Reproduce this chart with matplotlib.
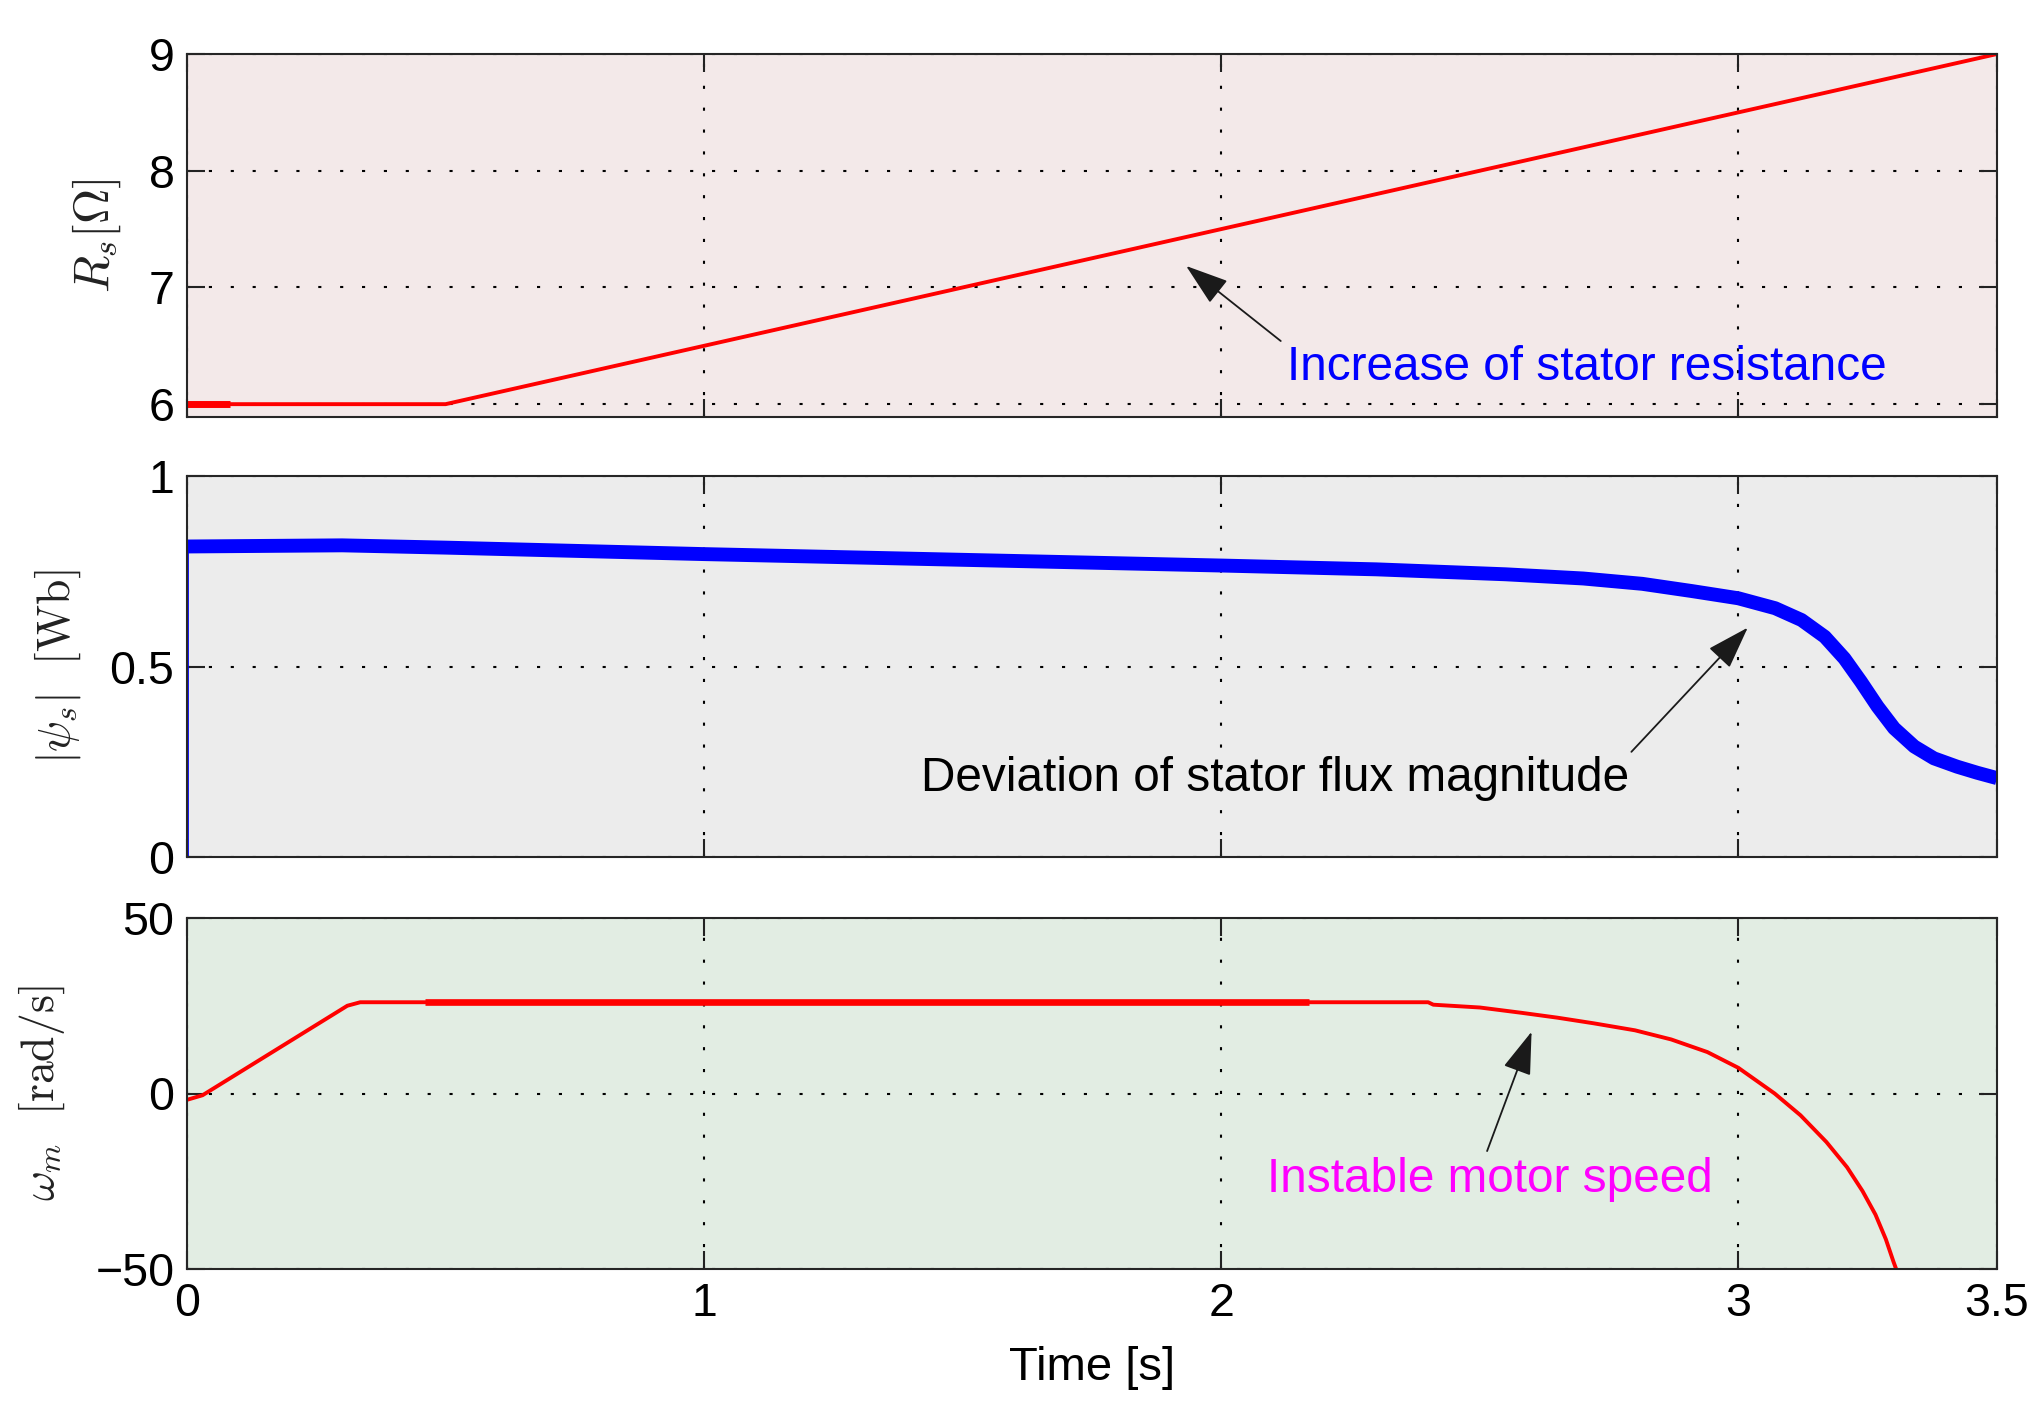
import matplotlib
matplotlib.use("Agg")
import matplotlib.pyplot as plt
from matplotlib.patches import ArrowStyle

plt.rcParams['font.family'] = ['Liberation Sans', 'DejaVu Sans']
plt.rcParams['mathtext.fontset'] = 'cm'

# ---------------- data ----------------
time_ticks = [0, 1, 2, 3, 3.5]
time_tick_labels = ["0", "1", "2", "3", "3.5"]

# stator resistance R_s [Ohm]
rs_t = [0.0, 0.5, 3.5]
rs_v = [6.0, 6.0, 9.0]
rs_thick_t = [0.0, 0.083]
rs_thick_v = [6.0, 6.0]
rs_ticks = [6, 7, 8, 9]

# stator flux magnitude |psi_s| [Wb]
flux_t = [0.0, 0.0, 0.3, 0.5, 1.0, 1.5, 2.0, 2.3, 2.55, 2.7, 2.814, 2.91,
          3.0, 3.071, 3.122, 3.167, 3.205, 3.237, 3.269, 3.301, 3.34, 3.378,
          3.423, 3.462, 3.5]
flux_v = [0.0, 0.815, 0.818, 0.812, 0.795, 0.78, 0.765, 0.755, 0.742, 0.731,
          0.717, 0.698, 0.679, 0.653, 0.622, 0.578, 0.521, 0.46, 0.395,
          0.338, 0.29, 0.259, 0.237, 0.221, 0.207]
flux_ticks = [0, 0.5, 1]
flux_tick_labels = ["0", "0.5", "1"]

# motor speed omega_m [rad/s]
spd_t = [0.0, 0.03, 0.31, 0.335, 2.40, 2.41, 2.50, 2.58, 2.65, 2.72, 2.80,
         2.87, 2.94, 3.00, 3.07, 3.12, 3.17, 3.21, 3.24, 3.265, 3.285,
         3.30, 3.31]
spd_v = [-1.8, -0.5, 25.0, 26.0, 26.0, 25.3, 24.5, 23.0, 21.6, 20.0, 18.0,
         15.4, 11.8, 7.3, 0.0, -6.2, -13.8, -21.0, -27.8, -34.5, -41.5,
         -48.0, -52.0]
spd_thick_t = [0.46, 2.17]
spd_thick_v = [26.0, 26.0]
spd_ticks = [-50, 0, 50]

# annotations (data coordinates of text and arrows)
ann_rs_text = "Increase of stator resistance"
ann_rs_text_xy = (2.127, 6.318)
ann_rs_tail = (2.115, 6.541)
ann_rs_tip = (1.932, 7.184)

ann_flux_text = "Deviation of stator flux magnitude"
ann_flux_text_xy = (1.419, 0.207)
ann_flux_tail = (2.793, 0.276)
ann_flux_tip = (3.018, 0.602)

ann_spd_text = "Instable motor speed"
ann_spd_text_xy = (2.088, -24.6)
ann_spd_tail = (2.514, -16.4)
ann_spd_tip = (2.600, 17.6)

# ---------------- figure ----------------
W, H = 2033, 1402
fig = plt.figure(figsize=(W / 100, H / 100), dpi=100)

left = 187 / W
width = 1810 / W
ax_rs = fig.add_axes([left, 1 - 417 / H, width, 363 / H])
ax_fl = fig.add_axes([left, 1 - 857 / H, width, 381 / H])
ax_sp = fig.add_axes([left, 1 - 1269 / H, width, 351 / H])

bg = {ax_rs: "#f3e9e9", ax_fl: "#ececec", ax_sp: "#e2ede3"}
tick_fs = 33.5
label_fs = 33
ann_fs = 34.4

for ax in (ax_rs, ax_fl, ax_sp):
    ax.set_facecolor(bg[ax])
    ax.set_xlim(0, 3.5)
    ax.set_xticks(time_ticks)
    ax.grid(True, color="black", linestyle=(0, (1.5, 9.0)), linewidth=1.5)
    ax.set_axisbelow(True)
    ax.tick_params(direction="in", length=13, width=1.5, top=True, right=True,
                   labelsize=tick_fs, pad=9, colors="#222222", labelcolor="black")
    for s in ax.spines.values():
        s.set_linewidth(1.5)
        s.set_color("#262626")

ax_rs.tick_params(labelbottom=False)
ax_fl.tick_params(labelbottom=False)
ax_sp.set_xticklabels(time_tick_labels)

# --- R_s ---
ax_rs.plot(rs_t, rs_v, color="red", lw=2.8, solid_capstyle="butt")
ax_rs.plot(rs_thick_t, rs_thick_v, color="red", lw=5, solid_capstyle="butt")
ax_rs.set_ylim(5.89, 9)
ax_rs.set_yticks(rs_ticks)
ax_rs.set_ylabel(r"$R_s[\Omega]$", fontsize=label_fs + 2, va="center", color="#222222")
ax_rs.yaxis.set_label_coords(-0.0497, 0.5)

# --- flux ---
ax_fl.plot(flux_t[:2], flux_v[:2], color="blue", lw=2.0)
ax_fl.plot(flux_t[1:], flux_v[1:], color="blue", lw=10, solid_capstyle="butt",
           solid_joinstyle="round")
ax_fl.set_ylim(0, 1)
ax_fl.set_yticks(flux_ticks)
ax_fl.set_yticklabels(flux_tick_labels)
ax_fl.set_ylabel(r"$|\psi_s|\ \ \mathrm{[Wb]}$", fontsize=label_fs, va="center",
                 color="#222222")
ax_fl.yaxis.set_label_coords(-0.0718, 0.5)

# --- speed ---
ax_sp.plot(spd_t, spd_v, color="red", lw=2.8, solid_joinstyle="round")
ax_sp.plot(spd_thick_t, spd_thick_v, color="red", lw=4.8, solid_capstyle="butt")
ax_sp.set_ylim(-50, 50)
ax_sp.set_yticks(spd_ticks)
ax_sp.set_ylabel(r"$\omega_m\ \ \mathrm{[rad/s]}$", fontsize=label_fs, va="center",
                 color="#222222")
ax_sp.yaxis.set_label_coords(-0.080, 0.5)
ax_sp.set_xlabel("Time [s]", fontsize=34, va="center")
ax_sp.xaxis.set_label_coords(0.5, -0.282)

# --- annotations ---
astyle = ArrowStyle("-|>", head_length=27, head_width=9)


def arrow(ax, tail, tip):
    ax.annotate("", xy=tip, xytext=tail,
                arrowprops=dict(arrowstyle=astyle, mutation_scale=1,
                                color="#1a1a1a", lw=1.3, shrinkA=0, shrinkB=0))


ax_rs.text(*ann_rs_text_xy, ann_rs_text, color="#0000ff", fontsize=ann_fs,
           ha="left", va="center")
arrow(ax_rs, ann_rs_tail, ann_rs_tip)

ax_fl.text(*ann_flux_text_xy, ann_flux_text, color="black", fontsize=ann_fs,
           ha="left", va="center")
arrow(ax_fl, ann_flux_tail, ann_flux_tip)

ax_sp.text(*ann_spd_text_xy, ann_spd_text, color="#ff00ff", fontsize=ann_fs,
           ha="left", va="center")
arrow(ax_sp, ann_spd_tail, ann_spd_tip)

fig.savefig("out.png", dpi=100)
